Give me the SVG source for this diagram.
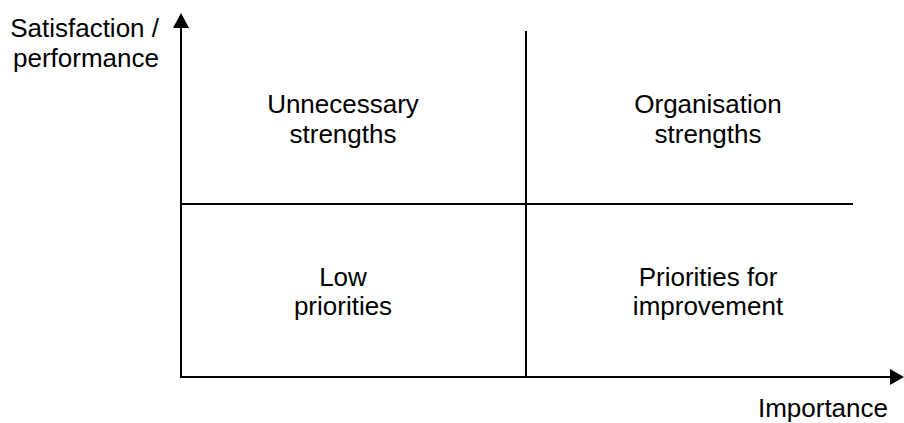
<svg xmlns="http://www.w3.org/2000/svg" width="904" height="423" viewBox="0 0 904 423">
<style>
text{font-family:"Liberation Sans",Arial,sans-serif;font-size:26px;fill:#000}
.c{text-anchor:middle}
.ln{stroke:#000;stroke-width:2;fill:none}
</style>
<rect width="904" height="423" fill="#fff"/>
<g id="connectors">
<line class="ln" x1="181" y1="377" x2="181" y2="26"/>
<polygon points="181,13 173,28 189,28"/>
<line class="ln" x1="180" y1="377" x2="892" y2="377"/>
<polygon points="904,377 890,369 890,385"/>
<line class="ln" x1="526" y1="31" x2="526" y2="377"/>
<line class="ln" x1="181" y1="204" x2="853" y2="204"/>
</g>
<g id="ylabel"><text x="159" y="37" text-anchor="end">Satisfaction /</text><text x="159" y="67" text-anchor="end">performance</text></g>
<g id="xlabel"><text x="888" y="417" text-anchor="end">Importance</text></g>
<g id="q-unnecessary"><text class="c" x="343" y="113">Unnecessary</text><text class="c" x="343" y="143">strengths</text></g>
<g id="q-organisation"><text class="c" x="708" y="113">Organisation</text><text class="c" x="708" y="143">strengths</text></g>
<g id="q-low"><text class="c" x="343" y="286">Low</text><text class="c" x="343" y="315">priorities</text></g>
<g id="q-priorities"><text class="c" x="708" y="286">Priorities for</text><text class="c" x="708" y="315">improvement</text></g>
</svg>
